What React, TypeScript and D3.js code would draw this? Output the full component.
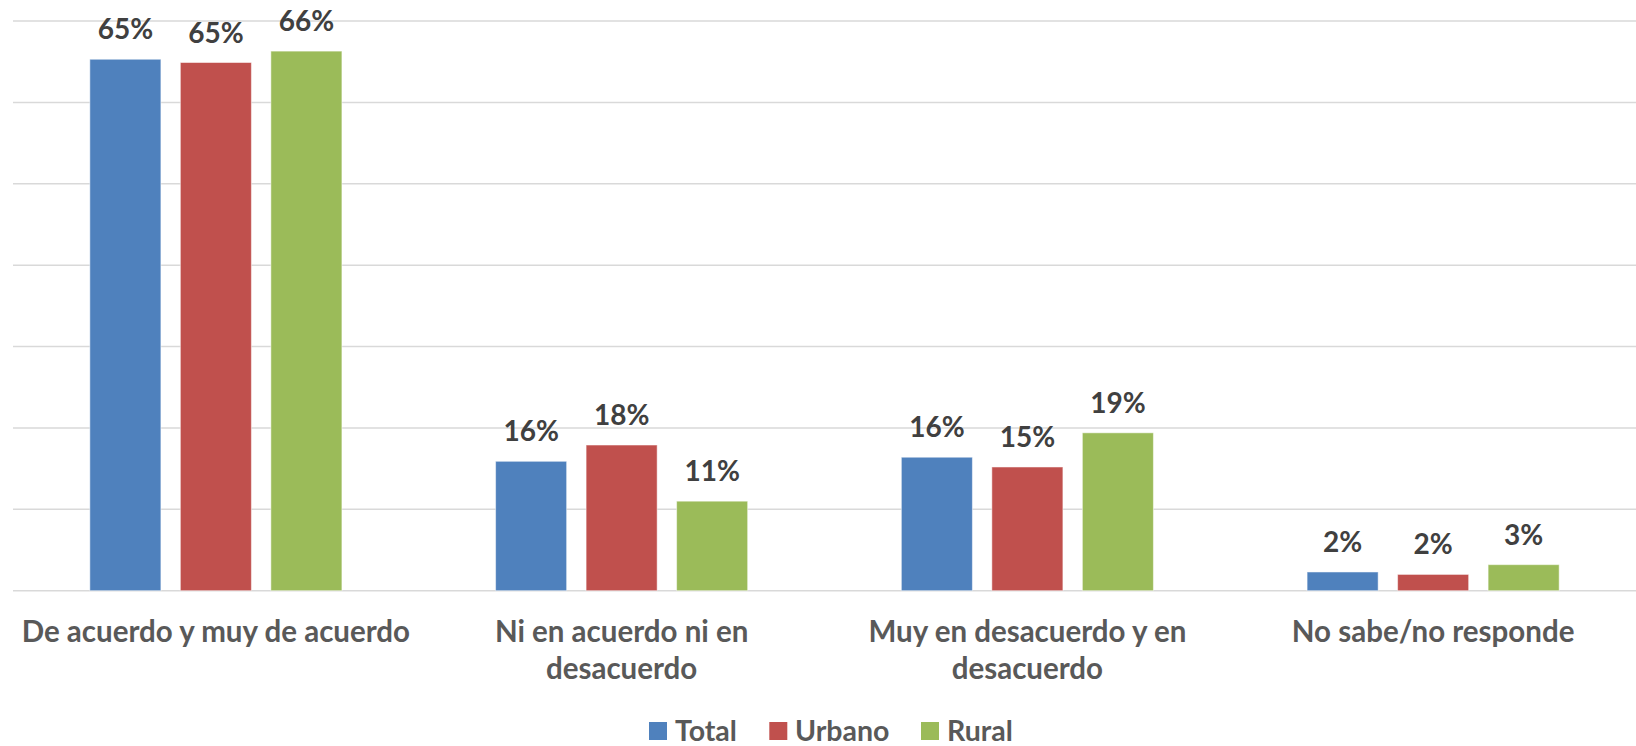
import React from "react";
import * as d3 from "d3";

const categories: string[][] = [
  ["De acuerdo y muy de acuerdo"],
  ["Ni en acuerdo ni en", "desacuerdo"],
  ["Muy en desacuerdo y en", "desacuerdo"],
  ["No sabe/no responde"],
];
const seriesNames = ["Total", "Urbano", "Rural"];
const totalValues = [65.3, 15.9, 16.4, 2.3];
const urbanoValues = [64.9, 17.9, 15.2, 2.0];
const ruralValues = [66.3, 11.0, 19.4, 3.2];
const yTicks = [0, 10, 20, 30, 40, 50, 60, 70];
const colors = ["#4f81bd", "#c0504d", "#9bbb59"];

const W = 1636;
const H = 746;
const FONT = "Lato, 'Open Sans', sans-serif";

export default function App() {
  const seriesValues = [totalValues, urbanoValues, ruralValues];
  const plotLeft = 13;
  const plotRight = W;
  const y = d3.scaleLinear().domain([0, 70]).range([590.7, 21]);
  const x0 = d3
    .scaleBand<number>()
    .domain(categories.map((_, i) => i))
    .range([plotLeft, plotRight])
    .padding(0);
  const x1 = d3
    .scaleBand<number>()
    .domain(seriesNames.map((_, i) => i))
    .range([0, x0.bandwidth()])
    .paddingInner(0.215)
    .paddingOuter(0.849);

  const legendItems = [
    { sq: 649, tx: 675 },
    { sq: 769.3, tx: 795 },
    { sq: 921, tx: 947 },
  ];

  return (
    <svg
      width={W}
      height={H}
      style={{ position: "absolute", left: 0, top: 0, background: "#fff" }}
      fontFamily={FONT}
    >
      <rect x={0} y={0} width={W} height={H} fill="#fff" />
      {yTicks.map((t) => (
        <line
          key={t}
          x1={plotLeft}
          x2={plotRight}
          y1={y(t)}
          y2={y(t)}
          stroke="#d9d9d9"
          strokeWidth={1.5}
        />
      ))}
      {categories.map((_, ci) =>
        seriesValues.map((vals, si) => {
          const v = vals[ci];
          const bx = (x0(ci) as number) + (x1(si) as number);
          const bw = x1.bandwidth();
          return (
            <g key={`${ci}-${si}`}>
              <rect
                x={bx}
                y={y(v)}
                width={bw}
                height={y(0) - y(v)}
                fill={colors[si]}
                stroke="#ffffff"
                strokeOpacity={0.5}
                strokeWidth={1}
              />
              <text
                x={bx + bw / 2}
                y={y(v) - 20}
                textAnchor="middle"
                fontSize={28}
                fontWeight="bold"
                fill="#404040"
              >
                {Math.round(v)}%
              </text>
            </g>
          );
        })
      )}
      {categories.map((lines, ci) => {
        const cx = (x0(ci) as number) + x0.bandwidth() / 2;
        return (
          <text
            key={ci}
            textAnchor="middle"
            fontSize={29.5}
            fontWeight="bold"
            fill="#595959"
          >
            {lines.map((ln, li) => (
              <tspan key={li} x={cx} y={642 + li * 37}>
                {ln}
              </tspan>
            ))}
          </text>
        );
      })}
      {seriesNames.map((name, si) => (
        <g key={name}>
          <rect
            x={legendItems[si].sq}
            y={722}
            width={18}
            height={18}
            fill={colors[si]}
          />
          <text
            x={legendItems[si].tx}
            y={740.5}
            fontSize={28.5}
            fontWeight="bold"
            fill="#595959"
          >
            {name}
          </text>
        </g>
      ))}
    </svg>
  );
}
